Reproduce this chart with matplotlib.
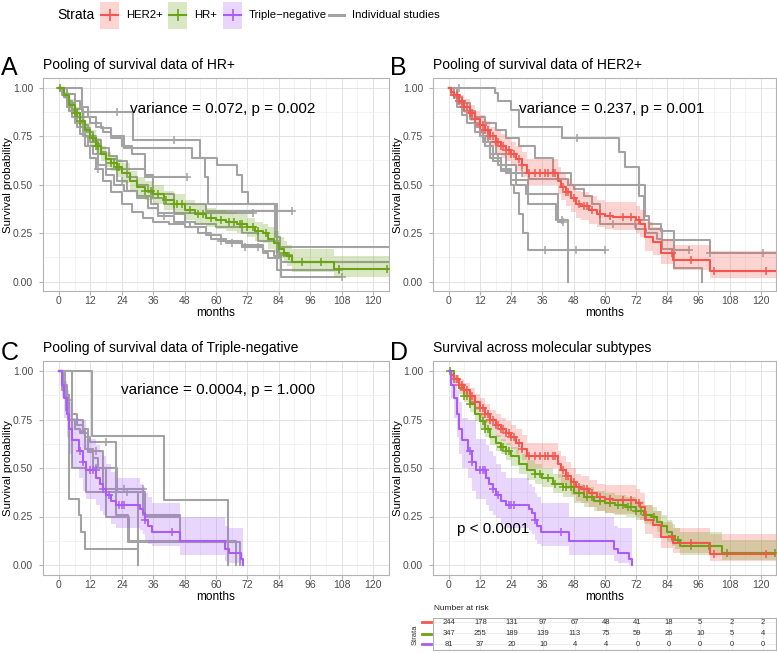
import numpy as np
import matplotlib
matplotlib.use("Agg")
from matplotlib import pyplot as plt
from matplotlib.patches import Rectangle

plt.rcParams["font.family"] = ["Liberation Sans", "DejaVu Sans"]

RED = "#F4564E"
GREEN = "#6AA314"
PURPLE = "#A95CF8"
GRAY = "#A3A3A3"

# ---- pooled Kaplan-Meier curves (months, survival) ----
hr_t = [0, 2, 4, 6, 8, 10, 12, 14, 16, 18, 20, 22, 24, 27, 30, 33, 36, 40, 44, 48, 52, 56, 60, 64, 68, 72, 75, 78, 80, 82, 84, 86, 87, 89, 105]
hr_s = [1.00, 0.96, 0.91, 0.87, 0.83, 0.78, 0.74, 0.70, 0.66, 0.63, 0.61, 0.59, 0.56, 0.52, 0.49, 0.47, 0.45, 0.42, 0.40, 0.37, 0.35, 0.33, 0.32, 0.31, 0.30, 0.28, 0.26, 0.25, 0.22, 0.20, 0.17, 0.15, 0.13, 0.10, 0.064]
hr_lo = [1.00, 0.94, 0.88, 0.84, 0.79, 0.74, 0.70, 0.66, 0.62, 0.59, 0.57, 0.54, 0.51, 0.47, 0.44, 0.42, 0.40, 0.37, 0.35, 0.32, 0.30, 0.28, 0.27, 0.26, 0.25, 0.23, 0.21, 0.20, 0.17, 0.15, 0.12, 0.10, 0.08, 0.05, 0.025]
hr_hi = [1.00, 0.98, 0.94, 0.90, 0.87, 0.82, 0.78, 0.74, 0.70, 0.67, 0.65, 0.63, 0.61, 0.57, 0.54, 0.52, 0.50, 0.47, 0.45, 0.42, 0.40, 0.38, 0.37, 0.36, 0.35, 0.33, 0.31, 0.30, 0.28, 0.26, 0.23, 0.21, 0.19, 0.17, 0.13]
hr_end = 126
hr_cens = [0.3, 6, 7, 8, 13, 14, 15, 20, 21, 22, 23, 33, 35, 38, 41, 44, 45, 47, 50, 53, 55, 58, 62, 65, 67, 69, 70, 72, 74, 76, 79, 86, 88, 93, 100, 107, 125.5]

her_t = [0, 1, 2, 4, 6, 8, 10, 12, 14, 16, 18, 20, 22, 24, 26, 28, 30, 42, 43, 45, 47, 49, 51, 54, 57, 60, 63, 72, 73.5, 75.5, 78.5, 81.8, 86.3, 100.3]
her_s = [1.00, 0.98, 0.96, 0.93, 0.90, 0.87, 0.84, 0.81, 0.78, 0.75, 0.72, 0.70, 0.68, 0.66, 0.63, 0.60, 0.56, 0.52, 0.49, 0.46, 0.43, 0.40, 0.39, 0.37, 0.35, 0.34, 0.335, 0.32, 0.30, 0.23, 0.205, 0.146, 0.112, 0.057]
her_lo = [1.00, 0.96, 0.94, 0.90, 0.87, 0.83, 0.80, 0.76, 0.73, 0.70, 0.66, 0.64, 0.62, 0.60, 0.57, 0.54, 0.50, 0.45, 0.42, 0.39, 0.36, 0.33, 0.32, 0.30, 0.28, 0.27, 0.265, 0.25, 0.23, 0.16, 0.14, 0.09, 0.06, 0.02]
her_hi = [1.00, 1.00, 0.98, 0.96, 0.94, 0.91, 0.88, 0.86, 0.83, 0.80, 0.78, 0.76, 0.74, 0.72, 0.70, 0.67, 0.63, 0.59, 0.56, 0.53, 0.50, 0.47, 0.46, 0.44, 0.42, 0.41, 0.41, 0.39, 0.37, 0.31, 0.28, 0.22, 0.19, 0.16]
her_end = 126
her_cens = [2, 3, 4, 5, 6, 7, 8, 9, 10, 12, 13, 14, 15, 16, 17, 18, 19, 20, 21, 22, 23, 24, 25, 27, 28, 31, 33, 35, 37, 38, 40, 41, 44, 45, 46, 48, 50, 52, 53, 55, 58, 62, 67, 70, 73, 86, 93, 102, 122]

tn_t = [0, 1, 2, 3, 4, 5, 7.5, 9, 10.3, 14.2, 15.5, 17, 18, 20, 21.9, 30.8, 32, 33, 34, 35.5, 46.3, 63.5, 65, 69.5, 70.5]
tn_s = [1.00, 0.93, 0.86, 0.78, 0.70, 0.644, 0.59, 0.53, 0.49, 0.45, 0.42, 0.39, 0.36, 0.33, 0.31, 0.29, 0.27, 0.23, 0.20, 0.17, 0.125, 0.08, 0.06, 0.03, 0.0]
tn_lo = [1.00, 0.86, 0.76, 0.66, 0.57, 0.50, 0.45, 0.38, 0.34, 0.31, 0.28, 0.26, 0.24, 0.21, 0.19, 0.18, 0.16, 0.13, 0.11, 0.10, 0.05, 0.02, 0.01, 0.0, 0.0]
tn_hi = [1.00, 0.99, 0.95, 0.90, 0.84, 0.76, 0.75, 0.75, 0.65, 0.62, 0.59, 0.56, 0.52, 0.48, 0.45, 0.42, 0.40, 0.37, 0.35, 0.32, 0.25, 0.20, 0.19, 0.19, 0.19]
tn_end = 70.5
tn_cens = [8, 9, 12, 13, 14, 17, 19, 23, 24, 25, 33, 43]

# ---- individual studies ----
hr_study_t = [
    [0, 8.6, 28.4, 53.9, 55.8, 57.0, 83.2],
    [0, 2, 4, 6, 9, 12, 16, 20, 25, 50.7, 60.5, 68, 70, 72.4, 82.6, 84.5],
    [0, 1, 3, 5, 7, 9, 11, 13, 16, 19, 22, 26, 33],
    [0, 2, 4, 6, 8, 10, 12, 14, 16, 18, 22, 26, 30, 34, 36, 40, 56],
    [0, 1, 3, 5, 7, 9, 11, 13, 15, 18, 21, 25, 30, 35, 38],
    [0, 2, 4, 6, 8, 10, 12, 14, 17, 20, 24, 28, 32, 36, 42, 48, 53, 58, 64, 70, 78, 82, 85],
    [0, 2, 4, 6, 8, 10, 12, 15, 18, 22, 26, 30, 34, 38, 44, 50, 56, 62, 70, 78, 80, 85],
    [0, 3, 6, 8, 11, 14, 17, 20, 24, 28, 33, 36, 44, 48, 52, 60, 70, 76, 84, 89],
]
hr_study_s = [
    [1.0, 0.875, 0.73, 0.64, 0.54, 0.40, 0.06],
    [1.0, 0.96, 0.92, 0.89, 0.85, 0.82, 0.79, 0.75, 0.687, 0.636, 0.60, 0.55, 0.46, 0.40, 0.23, 0.18],
    [1.0, 0.97, 0.93, 0.89, 0.85, 0.81, 0.77, 0.73, 0.69, 0.65, 0.62, 0.58, 0.54],
    [1.0, 0.95, 0.91, 0.87, 0.83, 0.79, 0.75, 0.71, 0.67, 0.63, 0.58, 0.54, 0.50, 0.46, 0.43, 0.40, 0.367],
    [1.0, 0.96, 0.90, 0.85, 0.80, 0.75, 0.70, 0.66, 0.60, 0.55, 0.50, 0.47, 0.44, 0.40, 0.353],
    [1.0, 0.95, 0.88, 0.82, 0.76, 0.70, 0.64, 0.58, 0.52, 0.46, 0.40, 0.36, 0.33, 0.31, 0.30, 0.28, 0.25, 0.22, 0.20, 0.18, 0.16, 0.13, 0.10],
    [1.0, 0.96, 0.92, 0.87, 0.82, 0.77, 0.72, 0.66, 0.58, 0.52, 0.47, 0.43, 0.38, 0.34, 0.31, 0.28, 0.24, 0.21, 0.19, 0.15, 0.12, 0.025],
    [1.0, 0.97, 0.93, 0.90, 0.85, 0.80, 0.77, 0.74, 0.70, 0.66, 0.55, 0.45, 0.35, 0.31, 0.30, 0.28, 0.25, 0.21, 0.14, 0.10],
]
hr_study_end = [107, 126, 49, 89, 74, 126, 108, 126]
hr_study_cens = [[22, 44, 107], [], [49], [89], [74], [15, 66, 71, 76], [24, 40, 62, 108], []]

her_study_t = [
    [0, 17.6, 19, 24, 27, 43.7, 65.3, 67.8, 73, 75, 77, 82, 100.3],
    [0, 3, 6, 10, 14, 18, 22, 27, 33, 40, 46.9, 75.5, 77, 81.8, 86.5],
    [0, 1, 3, 5, 8, 10, 12, 14, 17, 20, 24, 25, 27, 28.5, 30.3],
    [0, 2, 5, 8, 10, 12, 14, 16, 20, 24, 30.3, 41.3, 45.7],
    [0, 2, 4, 6, 9, 12, 15, 18, 22, 26, 31, 46, 48, 52, 55, 58, 72, 76, 80, 82, 86.5, 97.3],
    [0, 1, 3, 5, 7, 10, 13, 16, 19, 22, 26, 29.7, 41.9],
]
her_study_s = [
    [1.0, 0.975, 0.93, 0.885, 0.80, 0.74, 0.67, 0.593, 0.44, 0.32, 0.27, 0.215, 0.146],
    [1.0, 0.93, 0.88, 0.85, 0.82, 0.78, 0.74, 0.70, 0.64, 0.56, 0.498, 0.34, 0.30, 0.26, 0.165],
    [1.0, 0.96, 0.92, 0.88, 0.84, 0.80, 0.75, 0.70, 0.62, 0.57, 0.50, 0.455, 0.35, 0.25, 0.163],
    [1.0, 0.95, 0.92, 0.88, 0.82, 0.75, 0.70, 0.64, 0.58, 0.526, 0.40, 0.32, 0.0],
    [1.0, 0.96, 0.92, 0.88, 0.84, 0.78, 0.72, 0.66, 0.60, 0.56, 0.53, 0.50, 0.48, 0.44, 0.40, 0.30, 0.27, 0.25, 0.22, 0.17, 0.069, 0.0],
    [1.0, 0.96, 0.90, 0.86, 0.82, 0.77, 0.72, 0.66, 0.60, 0.56, 0.50, 0.45, 0.31],
]
her_study_end = [126, 92.5, 60.2, 45.7, 97.3, 44]
her_study_cens = [[3.8, 49.4, 100.3, 120.7], [92.5], [37, 49, 60.2], [43.5], [28, 63, 71.5], [44]]

tn_study_t = [
    [0, 12.5, 40, 64.5],
    [0, 4.8, 10.5, 30.3],
    [0, 2.2, 3.8, 7.5, 8.5, 9.8],
    [0, 1, 2, 4, 6, 8, 10, 12, 21.9, 26.4, 69],
    [0, 1, 3, 5, 7, 9, 11, 17, 32.1, 46.1, 64.6],
    [0, 1, 2.5, 4, 6, 8, 10, 13, 15, 17.8, 26.6, 67.5],
    [0, 2, 3.5, 9, 11, 13, 22, 33],
]
tn_study_s = [
    [1.0, 0.667, 0.333, 0.0],
    [1.0, 0.5, 0.375, 0.0],
    [1.0, 0.874, 0.342, 0.256, 0.17, 0.084],
    [1.0, 0.92, 0.875, 0.75, 0.70, 0.69, 0.66, 0.634, 0.256, 0.117, 0.0],
    [1.0, 0.93, 0.85, 0.78, 0.72, 0.68, 0.59, 0.393, 0.256, 0.117, 0.0],
    [1.0, 0.90, 0.80, 0.75, 0.70, 0.68, 0.60, 0.55, 0.50, 0.25, 0.125, 0.0],
    [1.0, 0.875, 0.75, 0.70, 0.58, 0.50, 0.375, 0.25],
]
tn_study_end = [64.5, 30.3, 29.5, 69, 64.6, 67.5, 46]
tn_study_cens = [[], [], [], [18], [14, 25, 32], [], [14, 26]]

# ---- number at risk ----
risk_months = [0, 12, 24, 36, 48, 60, 72, 84, 96, 108, 120]
risk_her = [244, 178, 131, 97, 67, 48, 41, 18, 5, 2, 2]
risk_hr = [347, 255, 189, 139, 113, 75, 59, 26, 10, 5, 4]
risk_tn = [81, 37, 20, 10, 4, 4, 0, 0, 0, 0, 0]

W, H = 777, 653
fig = plt.figure(figsize=(W / 100, H / 100), dpi=100)


def px_axes(left, top, width, height):
    return fig.add_axes([left / W, 1 - (top + height) / H, width / W, height / H])


def step_value(t, s, x):
    idx = np.searchsorted(np.array(t), np.array(x), side="right") - 1
    return np.array(s)[idx]


def draw_km(ax, t, s, end, cens, color, lw=1.5, ms=5.5, z=3):
    ax.step(list(t) + [end], list(s) + [s[-1]], where="post", color=color, lw=lw, zorder=z)
    if len(cens):
        ax.plot(cens, step_value(t, s, cens), ls="none", marker="+", ms=ms, mew=1.1, color=color, zorder=z)


def draw_band(ax, t, lo, hi, end, color):
    ax.fill_between(list(t) + [end], list(lo) + [lo[-1]], list(hi) + [hi[-1]], step="post",
                    color=color, alpha=0.25, lw=0, zorder=2)


def style(ax, xmax, title):
    ax.set_xlim(-6, xmax)
    ax.set_ylim(-0.05, 1.05)
    ax.set_xticks(np.arange(0, 121, 12))
    ax.set_xticks(np.arange(6, 127, 12), minor=True)
    ax.set_yticks([0, 0.25, 0.5, 0.75, 1.0])
    ax.set_yticklabels(["0.00", "0.25", "0.50", "0.75", "1.00"])
    ax.set_yticks([0.125, 0.375, 0.625, 0.875], minor=True)
    ax.grid(which="major", color="#DEDEDE", lw=0.6)
    ax.grid(which="minor", color="#EEEEEE", lw=0.5)
    ax.set_axisbelow(True)
    ax.tick_params(which="major", length=2.75, color="#B3B3B3", labelsize=7.5, labelcolor="#4D4D4D")
    ax.tick_params(axis="x", pad=0.8)
    ax.tick_params(axis="y", pad=4.5)
    ax.tick_params(which="minor", length=0)
    for sp in ax.spines.values():
        sp.set_color("#B3B3B3")
        sp.set_linewidth(0.8)
    ax.set_xlabel("months", fontsize=8.5, va="top")
    ax.xaxis.set_label_coords(0.5, -0.075)
    ax.set_ylabel("Survival probability", fontsize=8.2)
    ax.yaxis.set_label_coords(-0.089, 0.5)
    ax.text(0, 1.044, title, transform=ax.transAxes, ha="left", va="baseline", fontsize=10)


xmax_left = 126
xmax_right = -6 + 343 / 2.617

# Panel A
axA = px_axes(43.3, 78, 345.4, 213.4)
style(axA, xmax_left, "Pooling of survival data of HR+")
for t, s, e, c in zip(hr_study_t, hr_study_s, hr_study_end, hr_study_cens):
    draw_km(axA, t, s, e, c, GRAY, z=2)
draw_band(axA, hr_t, hr_lo, hr_hi, hr_end, GREEN)
draw_km(axA, hr_t, hr_s, hr_end, hr_cens, GREEN)
axA.text(62.7, 0.89, "variance = 0.072, p = 0.002", ha="center", va="center", fontsize=11)

# Panel B
axB = px_axes(433.3, 78, 343, 213.4)
style(axB, xmax_right, "Pooling of survival data of HER2+")
for t, s, e, c in zip(her_study_t, her_study_s, her_study_end, her_study_cens):
    draw_km(axB, t, s, e, c, GRAY, z=2)
draw_band(axB, her_t, her_lo, her_hi, her_end, RED)
draw_km(axB, her_t, her_s, her_end, her_cens, RED)
axB.text(62.6, 0.89, "variance = 0.237, p = 0.001", ha="center", va="center", fontsize=11)

# Panel C
axC = px_axes(43.3, 361.3, 345.4, 213.4)
style(axC, xmax_left, "Pooling of survival data of Triple-negative")
for t, s, e, c in zip(tn_study_t, tn_study_s, tn_study_end, tn_study_cens):
    draw_km(axC, t, s, e, c, GRAY, z=2)
draw_band(axC, tn_t, tn_lo, tn_hi, tn_end, PURPLE)
draw_km(axC, tn_t, tn_s, tn_end, tn_cens, PURPLE)
axC.text(60.8, 0.90, "variance = 0.0004, p = 1.000", ha="center", va="center", fontsize=11)

# Panel D
axD = px_axes(433.3, 361.3, 343, 213.4)
style(axD, xmax_right, "Survival across molecular subtypes")
draw_band(axD, her_t, her_lo, her_hi, her_end, RED)
draw_band(axD, hr_t, hr_lo, hr_hi, hr_end, GREEN)
draw_band(axD, tn_t, tn_lo, tn_hi, tn_end, PURPLE)
draw_km(axD, hr_t, hr_s, hr_end, hr_cens, GREEN)
draw_km(axD, her_t, her_s, her_end, her_cens, RED)
draw_km(axD, tn_t, tn_s, tn_end, tn_cens, PURPLE)
axD.text(17.2, 0.186, "p < 0.0001", ha="center", va="center", fontsize=11)

# Risk table
axR = px_axes(433.3, 617.7, 343, 32.3)
axR.set_xlim(-6, xmax_right)
axR.set_ylim(0.48, 3.4)
axR.set_xticks(risk_months)
axR.set_yticks([1, 2, 3])
axR.tick_params(length=0, labelbottom=False, labelleft=False)
axR.grid(color="#E6E6E6", lw=0.5)
axR.set_axisbelow(True)
for sp in axR.spines.values():
    sp.set_color("#B3B3B3")
    sp.set_linewidth(0.8)
for row, vals in zip([3, 2, 1], [risk_her, risk_hr, risk_tn]):
    for m, v in zip(risk_months, vals):
        axR.text(m, row, str(v), ha="center", va="center", fontsize=5.5, color="#333333")

# overlay for legend, panel letters and table labels (pixel coordinates)
ov = fig.add_axes([0, 0, 1, 1], zorder=10)
ov.set_xlim(0, W)
ov.set_ylim(H, 0)
ov.axis("off")

for lab, x, y in [("A", 1, 75), ("B", 390, 75), ("C", 1, 360), ("D", 390, 360)]:
    ov.text(x, y, lab, fontsize=18, ha="left", va="baseline")

ov.text(57, 15, "Strata", fontsize=10, ha="left", va="center")
for x0, col, lab, lx in [(100, RED, "HER2+", 126), (168, GREEN, "HR+", 194), (223, PURPLE, "Triple\u2212negative", 249)]:
    ov.add_patch(Rectangle((x0, 1.5), 19, 27, facecolor=col, alpha=0.25, lw=0))
    ov.plot([x0 + 1, x0 + 18], [15, 15], color=col, lw=1.5)
    ov.plot([x0 + 9.5], [15], marker="+", ms=8, mew=1.2, color=col)
    ov.text(lx, 15, lab, fontsize=8.2, ha="left", va="center")
ov.plot([329, 344], [15, 15], color=GRAY, lw=2.2)
ov.text(352, 15, "Individual studies", fontsize=8.2, ha="left", va="center")

ov.text(434, 609, "Number at risk", fontsize=6, ha="left", va="center", color="#222222")
ov.text(415, 634.5, "Strata", fontsize=5.5, rotation=90, ha="center", va="center", color="#333333")
for y, col in [(622.3, RED), (633.5, GREEN), (644.3, PURPLE)]:
    ov.plot([422, 431], [y, y], color=col, lw=2)

fig.savefig("out.png", dpi=100)
